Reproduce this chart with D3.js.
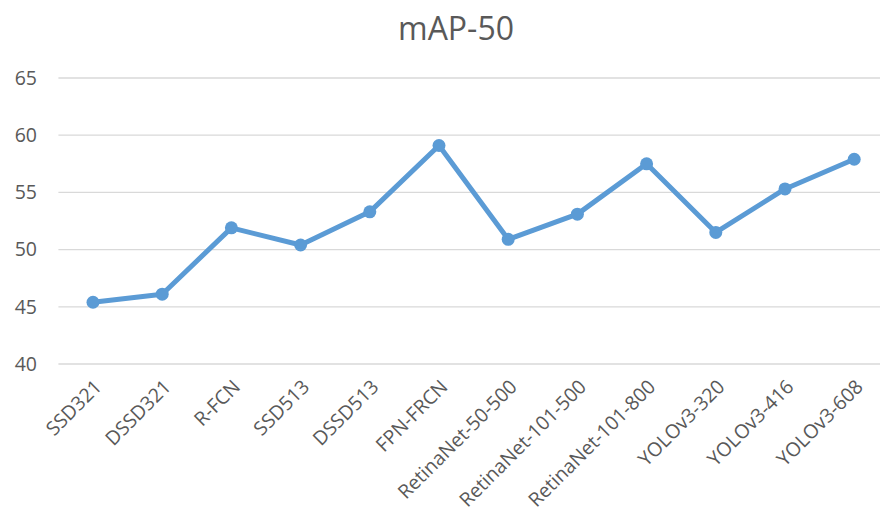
<!DOCTYPE html>
<html>
<head>
<meta charset="utf-8">
<script src="https://cdn.jsdelivr.net/npm/d3@7"></script>
<style>
  body { margin: 0; background: #fff; }
  text { font-family: "Open Sans", sans-serif; fill: #595959; }
</style>
</head>
<body>
<svg id="chart"></svg>
<script>
// chart data
const models = ['SSD321', 'DSSD321', 'R-FCN', 'SSD513', 'DSSD513', 'FPN-FRCN',
  'RetinaNet-50-500', 'RetinaNet-101-500', 'RetinaNet-101-800',
  'YOLOv3-320', 'YOLOv3-416', 'YOLOv3-608'];
const map50 = [45.4, 46.1, 51.9, 50.4, 53.3, 59.1, 50.9, 53.1, 57.5, 51.5, 55.3, 57.9];
const yTicks = [40, 45, 50, 55, 60, 65];
const chartTitle = 'mAP-50';

// layout
const width = 880;
const height = 517;
const plot = {left: 58.4, right: 888.8, top: 78, bottom: 364};

const svg = d3.select('#chart')
    .attr('width', width)
    .attr('height', height);

const x = d3.scaleBand()
    .domain(models)
    .range([plot.left, plot.right])
    .padding(0);

const y = d3.scaleLinear()
    .domain([40, 65])
    .range([plot.bottom, plot.top]);

// gridlines
svg.append('g')
    .selectAll('line')
    .data(yTicks)
    .enter()
    .append('line')
    .attr('x1', plot.left)
    .attr('x2', plot.right)
    .attr('y1', d => y(d))
    .attr('y2', d => y(d))
    .attr('stroke', '#d9d9d9')
    .attr('stroke-width', 1.3);

// y axis labels
svg.append('g')
    .selectAll('text')
    .data(yTicks)
    .enter()
    .append('text')
    .attr('x', 37)
    .attr('y', d => y(d))
    .attr('dy', '0.35em')
    .attr('text-anchor', 'end')
    .style('font-size', '19.5px')
    .text(d => d);

// x axis labels, rotated
svg.append('g')
    .selectAll('text')
    .data(models)
    .enter()
    .append('text')
    .attr('transform', d => 'translate(' + (x(d) + x.bandwidth() / 2 + 10) + ',' + (plot.bottom + 24) + ')rotate(-45)')
    .attr('text-anchor', 'end')
    .style('font-size', '19.5px')
    .text(d => d);

// line
const pts = models.map((m, i) => ({model: m, value: map50[i]}));
const line = d3.line()
    .x(d => x(d.model) + x.bandwidth() / 2)
    .y(d => y(d.value));

svg.append('path')
    .datum(pts)
    .attr('d', line)
    .attr('fill', 'none')
    .attr('stroke', '#5b9bd5')
    .attr('stroke-width', 5)
    .attr('stroke-linejoin', 'round');

svg.append('g')
    .selectAll('circle')
    .data(pts)
    .enter()
    .append('circle')
    .attr('cx', d => x(d.model) + x.bandwidth() / 2)
    .attr('cy', d => y(d.value))
    .attr('r', 6.5)
    .attr('fill', '#5b9bd5');

// title
svg.append('text')
    .attr('x', 456)
    .attr('y', 40)
    .attr('text-anchor', 'middle')
    .style('font-size', '32px')
    .text(chartTitle);
</script>
</body>
</html>
